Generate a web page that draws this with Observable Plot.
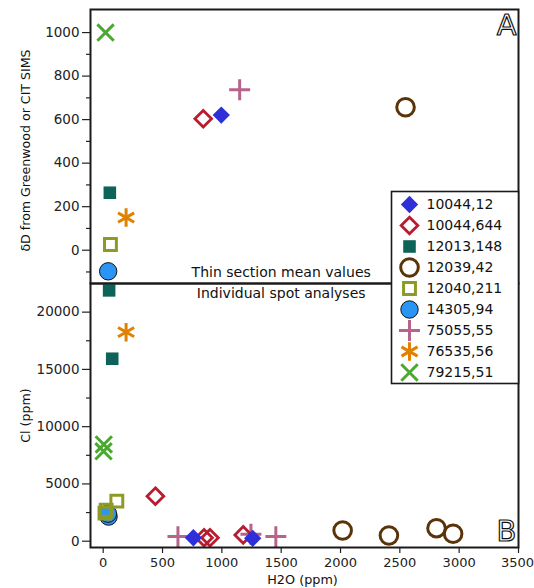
<!DOCTYPE html>
<html>
<head>
<meta charset="utf-8">
<script src="https://cdn.jsdelivr.net/npm/d3@7"></script>
<script src="https://cdn.jsdelivr.net/npm/@observablehq/plot@0.6"></script>
<style>
  html, body { margin: 0; padding: 0; background: white; }
  #wrap { position: relative; width: 534px; height: 588px; overflow: hidden; }
  #wrap > svg, #wrap > div { position: absolute; }
</style>
</head>
<body>
<div id="wrap"></div>
<script>
// ---------------- data ----------------
const seriesNames = ["10044,12", "10044,644", "12013,148", "12039,42", "12040,211", "14305,94", "75055,55", "76535,56", "79215,51"];
const seriesColors = ["#2f2fd9", "#b81c2e", "#0d6358", "#5a3309", "#8c9a26", "#2b95f5", "#b7648c", "#e08200", "#49aa2f"];

// Panel A: thin section mean values (H2O ppm, δD)
const meanH2O = [995, 843, 56, 2548, 61, 42, 1150, 193, 20];
const meanDD  = [621, 604, 264, 657, 26, -97, 737, 150, 1000];

// Panel B: individual spot analyses (H2O ppm, Cl ppm)
const spotSeries = ["10044,12", "10044,12",
  "10044,644", "10044,644", "10044,644", "10044,644",
  "12013,148", "12013,148",
  "12039,42", "12039,42", "12039,42", "12039,42",
  "12040,211", "12040,211", "12040,211",
  "14305,94", "14305,94",
  "75055,55", "75055,55", "75055,55",
  "76535,56",
  "79215,51", "79215,51"];
const spotH2O = [760, 1260,
  440, 850, 900, 1180,
  50, 76,
  2018, 2408, 2809, 2949,
  15, 25, 115,
  45, 40,
  630, 1245, 1455,
  193,
  5, 3];
const spotCl = [300, 250,
  3930, 300, 300, 550,
  21900, 15930,
  935, 500, 1135, 650,
  2450, 2700, 3500,
  2150, 2400,
  400, 600, 400,
  18250,
  8450, 7850];

const xTicks = [0, 500, 1000, 1500, 2000, 2500, 3000, 3500];
const dDTicks = [0, 200, 400, 600, 800, 1000];
const dDMinor = [-100, 100, 300, 500, 700, 900];
const clTicks = [0, 5000, 10000, 15000, 20000];
const clMinor = [2500, 7500, 12500, 17500];

// ---------------- symbol styles ----------------
function symStyle(name) {
  const c = seriesColors[seriesNames.indexOf(name)];
  switch (name) {
    case "10044,12":  return {symbol: "diamond2", r: 7.8, fill: c, stroke: "none"};
    case "10044,644": return {symbol: "diamond2", r: 7.5, fill: "none", stroke: c, strokeWidth: 2.8};
    case "12013,148": return {symbol: "square", r: 7.1, fill: c, stroke: "none"};
    case "12039,42":  return {symbol: "circle", r: 8.8, fill: "none", stroke: c, strokeWidth: 3};
    case "12040,211": return {symbol: "square", r: 6.7, fill: "none", stroke: c, strokeWidth: 3};
    case "14305,94":  return {symbol: "circle", r: 8.7, fill: c, stroke: "#111", strokeWidth: 1};
    case "75055,55":  return {symbol: "plus", r: 6.8, fill: "none", stroke: c, strokeWidth: 3};
    case "76535,56":  return {symbol: "asterisk", r: 8.8, fill: "none", stroke: c, strokeWidth: 3};
    case "79215,51":  return {symbol: "times", r: 7.5, fill: "none", stroke: c, strokeWidth: 3};
  }
}
const drawOrder = seriesNames.slice().reverse();

const W = 534, ML = 90, MR = 16;
const font = "'DejaVu Sans', sans-serif";
const xDomain = [-107, 3500];

// ---------------- Panel A ----------------
const meanRows = seriesNames.map((s, i) => ({s, x: meanH2O[i], y: meanDD[i]}));
const topPlot = Plot.plot({
  width: W, height: 283,
  marginLeft: ML, marginRight: MR, marginTop: 9, marginBottom: 0,
  style: {fontFamily: font, fontSize: "13px", color: "#222", background: "transparent", overflow: "visible"},
  x: {domain: xDomain, axis: null},
  y: {domain: [-153, 1106], axis: null},
  marks: [
    Plot.axisY({ticks: dDTicks, tickSize: 8, tickPadding: 3, tickFormat: "d", label: null, fontSize: 13.5, strokeWidth: 1.2}),
    Plot.axisY({ticks: dDMinor, tickSize: 4, text: null, label: null, strokeWidth: 1.2}),
    ...drawOrder.map(s => Plot.dot(meanRows.filter(d => d.s === s), {x: "x", y: "y", ...symStyle(s)})),
    Plot.text(["Thin section mean values"], {x: 1500, frameAnchor: "bottom", lineAnchor: "middle", dy: -11, fontSize: 14, fill: "#111"}),
    Plot.text(["A"], {frameAnchor: "top-right", textAnchor: "end", lineAnchor: "middle", dx: -2, dy: 16, fontSize: 29, fill: "white", stroke: "#111", strokeWidth: 1.2, paintOrder: "normal"}),
    Plot.text(["δD from Greenwood or CIT SIMS"], {frameAnchor: "left", textAnchor: "middle", rotate: -90, dx: -65, dy: 4, fontSize: 12.6, fill: "#111"}),
    Plot.frame({stroke: "#1a1a1a", strokeWidth: 2})
  ]
});
topPlot.style.left = "0px"; topPlot.style.top = "0px";

// ---------------- Panel B ----------------
const spotRows = spotSeries.map((s, i) => ({s, x: spotH2O[i], y: spotCl[i]}));
const xTicksInner = xTicks.slice(0, -1);
const xTicksLast = xTicks.slice(-1);
const botPlot = Plot.plot({
  width: W, height: 305,
  marginLeft: ML, marginRight: MR, marginTop: 0, marginBottom: 41,
  style: {fontFamily: font, fontSize: "13px", color: "#222", background: "transparent", overflow: "visible"},
  x: {domain: xDomain, axis: null},
  y: {domain: [-550, 22500], axis: null},
  marks: [
    Plot.axisY({ticks: clTicks, tickSize: 8, tickPadding: 3, tickFormat: "d", label: null, fontSize: 13.5, strokeWidth: 1.2}),
    Plot.axisY({ticks: clMinor, tickSize: 4, text: null, label: null, strokeWidth: 1.2}),
    Plot.axisX({ticks: xTicksInner, tickSize: 6, tickPadding: 4, tickFormat: "d", label: null, fontSize: 13, strokeWidth: 1.2}),
    Plot.axisX({ticks: xTicksLast, tickSize: 6, text: null, label: null, strokeWidth: 1.2}),
    Plot.text(xTicksLast, {x: d => d, text: d => String(d), frameAnchor: "bottom", lineAnchor: "top", textAnchor: "end", dx: 15.5, dy: 10, fontSize: 13, fill: "#222"}),
    ...drawOrder.map(s => Plot.dot(spotRows.filter(d => d.s === s), {x: "x", y: "y", ...symStyle(s)})),
    Plot.text(["Individual spot analyses"], {x: 1500, frameAnchor: "top", lineAnchor: "middle", dy: 10, fontSize: 14, fill: "#111"}),
    Plot.text(["B"], {frameAnchor: "bottom-right", textAnchor: "end", lineAnchor: "middle", dx: -2, dy: -16, fontSize: 29, fill: "white", stroke: "#111", strokeWidth: 1.2, paintOrder: "normal"}),
    Plot.text(["Cl (ppm)"], {frameAnchor: "left", textAnchor: "middle", rotate: -90, dx: -65, dy: 0, fontSize: 12.6, fill: "#111"}),
    Plot.text(["H2O (ppm)"], {frameAnchor: "bottom", x: 1680, lineAnchor: "middle", dy: 32, fontSize: 12.8, fill: "#111"}),
    Plot.frame({stroke: "#1a1a1a", strokeWidth: 2})
  ]
});
botPlot.style.left = "0px"; botPlot.style.top = "283px";

// ---------------- Legend ----------------
const LW = 127, LH = 192;
const legendRows = seriesNames.map(s => ({s}));
const legend = Plot.plot({
  width: LW, height: LH,
  margin: 0,
  style: {fontFamily: font, background: "transparent", overflow: "visible"},
  x: {domain: [0, LW], range: [0, LW], axis: null},
  y: {type: "point", domain: seriesNames, range: [12, 181], padding: 0, axis: null},
  marks: [
    Plot.frame({fill: "white", stroke: "#1a1a1a", strokeWidth: 1.6}),
    ...seriesNames.map(s => Plot.dot([{s}], {x: () => 18, y: "s", ...symStyle(s)})),
    Plot.text(legendRows, {x: () => 35, y: "s", text: "s", textAnchor: "start", fontSize: 14, fill: "#111"})
  ]
});
legend.style.left = "391px"; legend.style.top = "191px";

const wrap = document.getElementById("wrap");
wrap.appendChild(topPlot);
wrap.appendChild(botPlot);
wrap.appendChild(legend);
</script>
</body>
</html>
